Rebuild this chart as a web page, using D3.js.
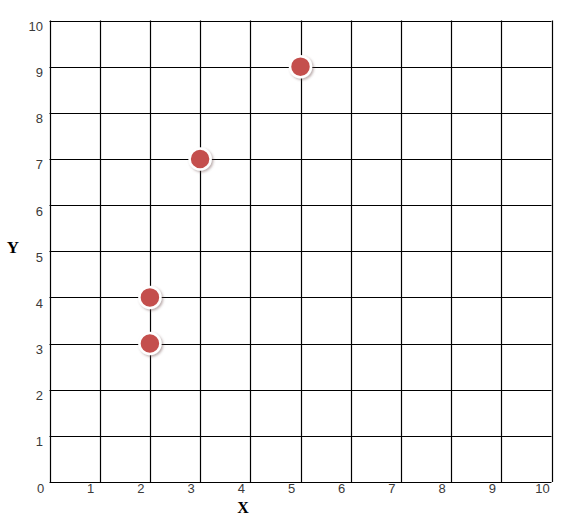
<!DOCTYPE html>
<html lang="en">
<head>
    <meta charset="UTF-8">
    <title>Scatter</title>
    <style>
        body { margin: 0; background: #fff; }
    </style>
</head>
<body>
    <svg width="579" height="517"></svg>
    <script src="https://d3js.org/d3.v7.min.js"></script>
    <script>
    // points
    let xs = [2, 2, 3, 5];
    let ys = [3, 4, 7, 9];
    let ticks = [0, 1, 2, 3, 4, 5, 6, 7, 8, 9, 10];

    let svg = d3.select('svg');
    let x = d3.scaleLinear().domain([0, 10]).range([49.5, 551.5]);
    let y = d3.scaleLinear().domain([0, 10]).range([482, 20.5]);

    let defs = svg.append('defs');
    let f = defs.append('filter').attr('id', 'shadow').attr('x', '-50%').attr('y', '-50%').attr('width', '200%').attr('height', '200%');
    f.append('feDropShadow').attr('dx', 1.5).attr('dy', 1.5).attr('stdDeviation', 1.2)
        .attr('flood-color', '#6b4a4a').attr('flood-opacity', 0.45);

    let grid = svg.append('g');
    grid.selectAll('line.v').data(ticks).enter().append('line')
        .attr('x1', d => Math.round(x(d)) + 0.5).attr('x2', d => Math.round(x(d)) + 0.5)
        .attr('y1', y(10)).attr('y2', y(0))
        .style('stroke', '#000').style('stroke-width', 1.2);
    grid.selectAll('line.h').data(ticks).enter().append('line')
        .attr('y1', d => Math.round(y(d)) + 0.5).attr('y2', d => Math.round(y(d)) + 0.5)
        .attr('x1', x(0)).attr('x2', x(10))
        .style('stroke', '#000').style('stroke-width', 1.2);

    let font = 'Arial, "Liberation Sans", sans-serif';
    // x tick labels (the 0 is shared with the y axis)
    svg.append('g').selectAll('text').data(ticks).enter().append('text')
        .attr('x', d => x(d) - 9).attr('y', 493)
        .attr('text-anchor', 'middle')
        .style('font-family', font).style('font-size', '13px').style('fill', '#3a3a3a')
        .text(d => d);
    svg.append('g').selectAll('text').data(ticks.slice(1)).enter().append('text')
        .attr('x', 43).attr('y', d => y(d) + 10.5)
        .attr('text-anchor', 'end')
        .style('font-family', font).style('font-size', '13px').style('fill', '#3a3a3a')
        .text(d => d);

    svg.append('text').attr('x', 243).attr('y', 513).attr('text-anchor', 'middle')
        .style('font-family', '"Liberation Serif", "Times New Roman", serif').style('font-weight', 'bold').style('font-size', '16px')
        .text('X');
    svg.append('text').attr('x', 13).attr('y', 253).attr('text-anchor', 'middle')
        .style('font-family', '"Liberation Serif", "Times New Roman", serif').style('font-weight', 'bold').style('font-size', '17px')
        .text('Y');

    svg.append('g').selectAll('circle').data(xs).enter().append('circle')
        .attr('cx', (d, i) => x(d)).attr('cy', (d, i) => y(ys[i]))
        .attr('r', 10.5)
        .style('fill', '#c4504d').style('stroke', '#fff').style('stroke-width', 2.5)
        .attr('filter', 'url(#shadow)');
    </script>
</body>
</html>
